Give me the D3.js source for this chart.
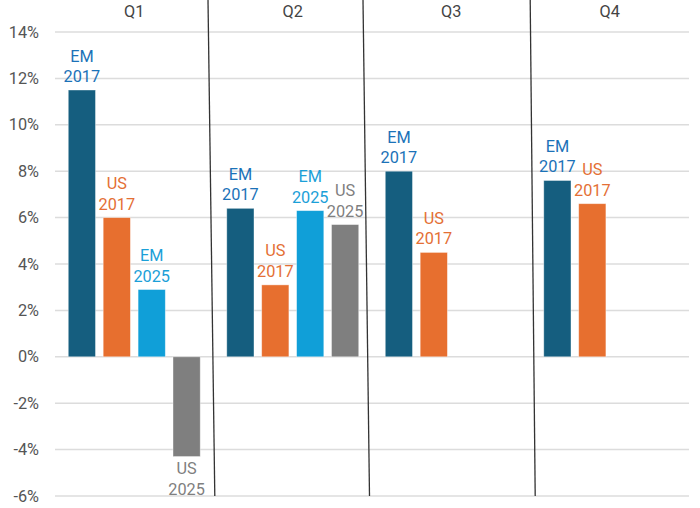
<!DOCTYPE html>
<html>
<head>
<meta charset="utf-8">
<script src="https://cdn.jsdelivr.net/npm/d3@7"></script>
<style>
  html, body { margin: 0; padding: 0; background: #fff; }
  svg { display: block; font-family: Roboto, "Noto Sans", sans-serif; }
</style>
</head>
<body>
<svg id="chart" width="700" height="508"></svg>
<script>
const quarters = ["Q1", "Q2", "Q3", "Q4"];
const seriesKeys = ["EM 2017", "US 2017", "EM 2025", "US 2025"];
const em2017 = [11.5, 6.4, 8.0, 7.6];
const us2017 = [6.0, 3.1, 4.5, 6.6];
const em2025 = [2.9, 6.3, null, null];
const us2025 = [-4.3, 5.7, null, null];
const yTicks = [-6, -4, -2, 0, 2, 4, 6, 8, 10, 12, 14];

const seriesValues = [em2017, us2017, em2025, us2025];
const barColors = ["#155e7f", "#e76f2f", "#109fd8", "#7f7f7f"];
const labelColors = ["#1b72b8", "#e46f35", "#1ba0d8", "#7f7f7f"];

const svg = d3.select("#chart");
const plotLeft = 55, plotRight = 689, plotTop = 32, plotBottom = 496;
const fs = 16.3;

const y = d3.scaleLinear().domain([-6, 14]).range([plotBottom, plotTop]);
const x0 = d3.scaleBand().domain(quarters).range([plotLeft, plotRight]).padding(0);
const x1 = d3.scaleBand().domain(seriesKeys).range([0, x0.bandwidth()])
  .paddingInner(0.22).paddingOuter(0.38);

// gridlines
svg.append("g").selectAll("line").data(yTicks).join("line")
  .attr("x1", plotLeft).attr("x2", plotRight)
  .attr("y1", d => y(d)).attr("y2", d => y(d))
  .attr("stroke", "#dcdcdc").attr("stroke-width", 1.5);

// y tick labels
svg.append("g").selectAll("text").data(yTicks).join("text")
  .attr("x", 39).attr("y", d => y(d))
  .attr("text-anchor", "end").attr("dominant-baseline", "central")
  .attr("font-size", fs).attr("fill", "#555")
  .text(d => d + "%");

// quarter labels
svg.append("g").selectAll("text").data(quarters).join("text")
  .attr("x", d => x0(d) + x0.bandwidth() / 2).attr("y", 11)
  .attr("text-anchor", "middle").attr("dominant-baseline", "central")
  .attr("font-size", fs).attr("fill", "#444")
  .text(d => d);

// bars
const bars = [];
quarters.forEach((q, qi) => {
  seriesKeys.forEach((s, si) => {
    const v = seriesValues[si][qi];
    if (v !== null && v !== undefined) bars.push({ q, s, si, v });
  });
});

svg.append("g").selectAll("rect").data(bars).join("rect")
  .attr("x", d => x0(d.q) + x1(d.s))
  .attr("width", x1.bandwidth())
  .attr("y", d => y(Math.max(0, d.v)))
  .attr("height", d => Math.abs(y(d.v) - y(0)))
  .attr("fill", d => barColors[d.si])
  .attr("stroke", "#ffffff").attr("stroke-opacity", 0.5).attr("stroke-width", 0.8);

// bar labels (two lines)
const lab = svg.append("g").selectAll("text").data(bars).join("text")
  .attr("text-anchor", "middle")
  .attr("font-size", fs)
  .attr("fill", d => labelColors[d.si]);
lab.each(function (d) {
  const parts = d.s.split(" ");
  const cx = x0(d.q) + x1(d.s) + x1.bandwidth() / 2;
  const t = d3.select(this);
  if (d.v >= 0) {
    t.append("tspan").attr("x", cx).attr("y", y(d.v) - 28.5).text(parts[0]);
    t.append("tspan").attr("x", cx).attr("y", y(d.v) - 8).text(parts[1]);
  } else {
    t.append("tspan").attr("x", cx).attr("y", y(d.v) + 17.5).text(parts[0]);
    t.append("tspan").attr("x", cx).attr("y", y(d.v) + 38.5).text(parts[1]);
  }
});

// quarter dividers (slightly tilted, as in the original)
const dividerTilt = [[-5.5, 1.3], [-9, -2.5], [-0.3, 4.7]];
svg.append("g").selectAll("line").data(quarters.slice(1)).join("line")
  .attr("x1", (d, i) => x0(d) + dividerTilt[i][0]).attr("y1", 0)
  .attr("x2", (d, i) => x0(d) + dividerTilt[i][1]).attr("y2", plotBottom)
  .attr("stroke", "#333").attr("stroke-width", 1.3);
</script>
</body>
</html>
